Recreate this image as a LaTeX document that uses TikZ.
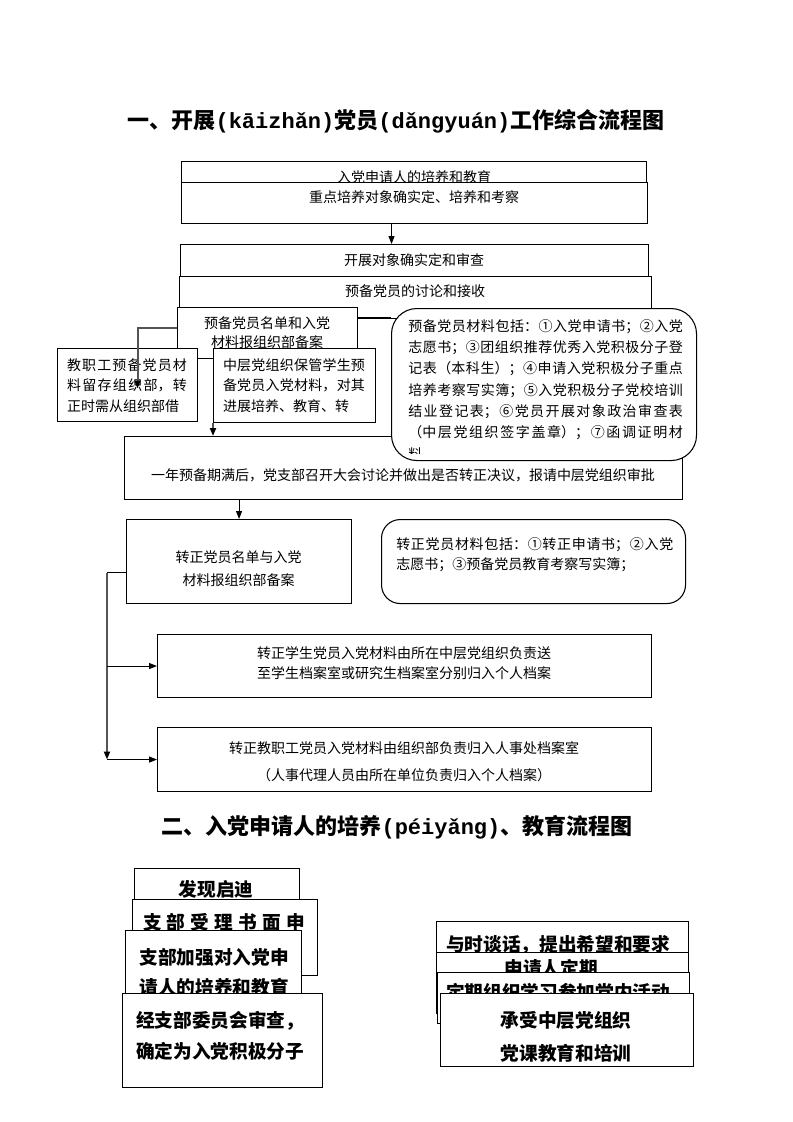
\documentclass[tikz,border=0pt]{standalone}
\usepackage{fontspec}
\setmainfont{Noto Sans CJK SC}
\newfontfamily\pyfont{Liberation Mono}
\usepackage{tikz}
\usetikzlibrary{positioning,arrows.meta}
\XeTeXlinebreaklocale "zh"
\XeTeXlinebreakskip=0pt plus 2pt
\newdimen\pxu \pxu=0.75pt
\definecolor{linegray}{rgb}{0.33,0.33,0.33}

\begin{document}
\begin{tikzpicture}[x=0.75pt, y=-0.75pt,
  box/.style = {draw, fill=white, line width=0.8pt, inner sep=0pt, anchor=north west},
  note/.style = {box, rounded corners=#1},
  txt/.style = {inner sep=0pt, align=center, font=\fontsize{10.5pt}{#1}\selectfont},
  txt/.default = 14pt,
  big/.style = {inner sep=0pt, align=center, font=\fontsize{14pt}{#1}\selectfont\bfseries},
  big/.default = 17pt,
  head/.style = {inner sep=0pt, font=\fontsize{16.5pt}{20pt}\selectfont\bfseries},
  arr/.style = {line width=0.8pt, -{Triangle[length=6pt, width=4.5pt]}},
  garr/.style = {draw=linegray, line width=1.5pt, -{Triangle[length=6pt, width=4.5pt, color=black]}}
]
\useasboundingbox (0,0) rectangle (793,1122);
\fill[white] (0,0) rectangle (793,1122);

% part one
\node[head] (title1) at (396,121) {一、开展{\pyfont(kāizhǎn)}党员{\pyfont(dǎngyuán)}工作综合流程图};

\node[box, minimum width=465\pxu, minimum height=35\pxu] (apply) at (181,161) {};
\node[txt] (applytext) at (414,177) {入党申请人的培养和教育};
\node[box, minimum width=466\pxu, minimum height=41\pxu] (focus) at (181,182) {};
\node[txt] (focustext) at (414,197) {重点培养对象确实定、培养和考察};
\node[box, minimum width=468\pxu, minimum height=46\pxu] (check) at (180,244) {};
\node[txt] (checktext) at (414,260) {开展对象确实定和审查};
\node[box, minimum width=472\pxu, minimum height=42\pxu] (admit) at (179,276) {};
\node[txt] (admittext) at (415,291) {预备党员的讨论和接收};

\coordinate (p0) at ([shift={(-23,0)}]focus.south);
\draw[arr] (p0) -- (p0 |- check.north);

\node[box, minimum width=180\pxu, minimum height=51\pxu] (file1) at (177,307) {};
\node[txt=14.25pt] (file1text) at (267,332.5) {预备党员名单和入党\\材料报组织部备案};

\node[box, minimum width=140\pxu, minimum height=73\pxu] (staff) at (57,348) {};
\node[txt=15.4pt, align=justify, text width=90pt] (stafftext) at (127,385.5)
  {\parfillskip=0pt 教职工预备党员材料留存组织部，转正时需从组织部借};
\node[box, minimum width=162\pxu, minimum height=74\pxu] (college) at (213,348) {};
\node[txt=15.4pt, align=justify, text width=106.5pt] (collegetext) at (294,385.5)
  {\parfillskip=0pt 中层党组织保管学生预备党员入党材料，对其进展培养、教育、转};

\coordinate (p1) at ([shift={(0,-5.5)}]file1.west);
\draw[garr] (p1) -| ([shift={(10,3.5)}]staff.center);
\coordinate (p2) at ([shift={(0,-15.5)}]file1.east);

\node[box, minimum width=558\pxu, minimum height=63\pxu] (year) at (124,436) {};
\node[txt] (yeartext) at (403,475) {一年预备期满后，党支部召开大会讨论并做出是否转正决议，报请中层党组织审批};
\draw[garr] (college.south west) -- (college.south west |- year.north);

\node[note=19pt, minimum width=305\pxu, minimum height=152\pxu] (material) at (391,308) {};
\draw[line width=0.8pt] (p2) -- (p2 -| material.west);
\begin{scope}
  \clip (material.north west) rectangle ([shift={(0,-8)}]material.south east);
  \node[txt=16pt, align=justify, text width=206pt, anchor=north west] (materialtext) at (408,319)
    {预备党员材料包括：①入党申请书；②入党\linebreak%
     志愿书；③团组织推荐优秀入党积极分子登\linebreak%
     记表（本科生）；④申请入党积极分子重点\linebreak%
     培养考察写实簿；⑤入党积极分子党校培训\linebreak%
     结业登记表；⑥党员开展对象政治审查表\linebreak%
     （中层党组织签字盖章）；⑦函调证明材\linebreak%
     料};
\end{scope}

\node[box, minimum width=225\pxu, minimum height=84\pxu] (list2) at (126,519) {};
\node[txt=17pt] (list2text) at (238.5,568.5) {转正党员名单与入党\\材料报组织部备案};
\draw[arr] (list2.north |- year.south) -- (list2.north);

\node[note=14pt, minimum width=304\pxu, minimum height=84\pxu] (material2) at (381,519) {};
\node[txt=15pt, align=justify, text width=207.75pt, anchor=north west] (material2text) at (396,537)
  {转正党员材料包括：①转正申请书；②入党\linebreak%
   志愿书；③预备党员教育考察写实簿；};

\node[box, minimum width=494\pxu, minimum height=63\pxu] (student) at (157,634) {};
\node[txt=15pt] (studenttext) at (404,663) {转正学生党员入党材料由所在中层党组织负责送\\至学生档案室或研究生档案室分别归入个人档案};
\node[box, minimum width=494\pxu, minimum height=64\pxu] (staff2) at (157,727) {};
\node[txt=20pt] (staff2text) at (404,761.5) {转正教职工党员入党材料由组织部负责归入人事处档案室\\（人事代理人员由所在单位负责归入个人档案）};

\coordinate (p3) at ([shift={(0,11)}]list2.west);
\coordinate (split) at ([shift={(-19,0)}]p3);
\draw[line width=0.8pt] (p3) -- (split);
\draw[garr] (split) -- (split |- staff2.west);
\draw[arr] (split |- student.west) -- (student.west);
\draw[arr] (split |- staff2.west) -- (staff2.west);

% part two
\node[head] (title2) at (397,827) {二、入党申请人的培养{\pyfont(péiyǎng)}、教育流程图};

\node[box, minimum width=165\pxu, minimum height=44\pxu] (discover) at (134,868) {};
\node[big] (discovertext) at (216,889) {发现启迪};
\node[box, minimum width=185\pxu, minimum height=76\pxu] (accept) at (132,899) {};
\node[big] (accepttext) at (224,922) {\hbox to 121.5pt{支\hfil 部\hfil 受\hfil 理\hfil 书\hfil 面\hfil 申}};
\node[box, minimum width=176\pxu, minimum height=70\pxu] (train) at (125,930) {};
\node[big=23pt] (traintext) at (214,972.5) {支部加强对入党申\\请人的培养和教育};
\node[box, minimum width=200\pxu, minimum height=94\pxu] (activist) at (122,993) {};
\node[big=23pt] (activisttext) at (220,1035.5) {经支部委员会审查，\\确定为入党积极分子};

\node[box, minimum width=252\pxu, minimum height=41\pxu] (talk) at (436,921) {};
\node[big] (talktext) at (558,945) {与时谈话，提出希望和要求};
\node[box, minimum width=252\pxu, minimum height=61\pxu] (regular) at (436,952) {};
\node[big] (regulartext) at (551,968) {申请人定期};
\node[box, minimum width=252\pxu, minimum height=51\pxu] (study) at (437,972) {};
\node[big] (studytext) at (558,992) {定期组织学习参加党内活动};
\node[box, minimum width=253\pxu, minimum height=73\pxu] (course) at (440,993) {};
\node[big=24.75pt] (coursetext) at (566,1036.5) {承受中层党组织\\党课教育和培训};
\end{tikzpicture}
\end{document}
